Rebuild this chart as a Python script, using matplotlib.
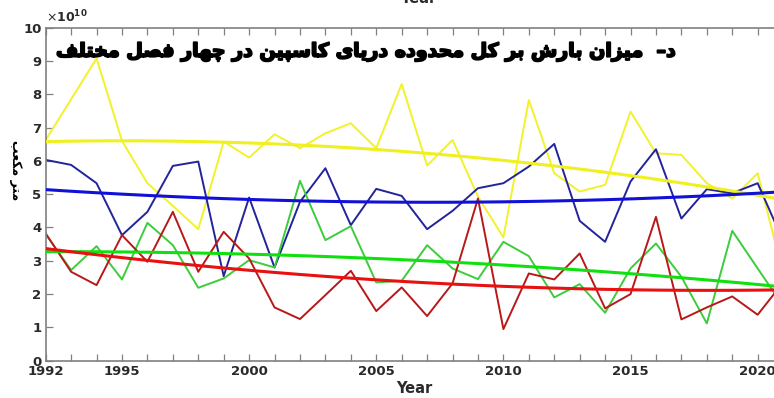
import numpy as np
import matplotlib
matplotlib.use("Agg")
import matplotlib.pyplot as plt
import matplotlib.patheffects as pe

# Seasonal precipitation volume over the Caspian Sea basin, in units of 1e10 m^3
years = np.arange(1992, 2022)

winter = [6.63, 7.85, 9.08, 6.60, 5.33, 4.65, 3.95, 6.58, 6.10, 6.80,
          6.38, 6.83, 7.13, 6.38, 8.31, 5.86, 6.63, 4.93, 3.70, 7.83,
          5.63, 5.08, 5.28, 7.48, 6.23, 6.18, 5.33, 4.87, 5.63, 2.60]
autumn = [6.03, 5.88, 5.33, 3.77, 4.47, 5.85, 5.98, 2.54, 4.90, 2.80,
          4.77, 5.78, 4.07, 5.16, 4.95, 3.95, 4.50, 5.18, 5.33, 5.83,
          6.51, 4.20, 3.57, 5.38, 6.35, 4.27, 5.15, 5.03, 5.33, 3.60]
spring = [3.80, 2.72, 3.44, 2.44, 4.14, 3.47, 2.19, 2.47, 3.02, 2.80,
          5.40, 3.62, 4.04, 2.35, 2.40, 3.47, 2.77, 2.45, 3.57, 3.14,
          1.90, 2.30, 1.44, 2.77, 3.52, 2.52, 1.12, 3.90, 2.77, 1.65]
summer = [3.82, 2.67, 2.27, 3.77, 2.97, 4.47, 2.67, 3.87, 3.07, 1.60,
          1.25, 1.97, 2.70, 1.49, 2.20, 1.34, 2.32, 4.87, 0.95, 2.62,
          2.44, 3.22, 1.57, 2.00, 4.32, 1.24, 1.60, 1.93, 1.38, 2.35]

series = [
    (winter, "#f2f22a", "#f0f020"),
    (autumn, "#23239a", "#1010d8"),
    (spring, "#3ccc3c", "#10e010"),
    (summer, "#b81818", "#e81010"),
]

title_text = "د–  میزان بارش بر کل محدوده دریای کاسپین در چهار فصل مختلف"
ylabel_text = "متر مکعب"
xticks_labeled = [1992, 1995, 2000, 2005, 2010, 2015, 2020]
yticks = list(range(0, 11))

# --- simple Arabic-script shaping (presentation forms + visual order) ---
FORMS = {
    'ا': ('\uFE8D', '\uFE8E', None, None),
    'ب': ('\uFE8F', '\uFE90', '\uFE91', '\uFE92'),
    'پ': ('\uFB56', '\uFB57', '\uFB58', '\uFB59'),
    'ت': ('\uFE95', '\uFE96', '\uFE97', '\uFE98'),
    'ج': ('\uFE9D', '\uFE9E', '\uFE9F', '\uFEA0'),
    'چ': ('\uFB7A', '\uFB7B', '\uFB7C', '\uFB7D'),
    'ح': ('\uFEA1', '\uFEA2', '\uFEA3', '\uFEA4'),
    'خ': ('\uFEA5', '\uFEA6', '\uFEA7', '\uFEA8'),
    'د': ('\uFEA9', '\uFEAA', None, None),
    'ر': ('\uFEAD', '\uFEAE', None, None),
    'ز': ('\uFEAF', '\uFEB0', None, None),
    'س': ('\uFEB1', '\uFEB2', '\uFEB3', '\uFEB4'),
    'ش': ('\uFEB5', '\uFEB6', '\uFEB7', '\uFEB8'),
    'ص': ('\uFEB9', '\uFEBA', '\uFEBB', '\uFEBC'),
    'ع': ('\uFEC9', '\uFECA', '\uFECB', '\uFECC'),
    'ف': ('\uFED1', '\uFED2', '\uFED3', '\uFED4'),
    'ق': ('\uFED5', '\uFED6', '\uFED7', '\uFED8'),
    'ک': ('\uFB8E', '\uFB8F', '\uFB90', '\uFB91'),
    'ل': ('\uFEDD', '\uFEDE', '\uFEDF', '\uFEE0'),
    'م': ('\uFEE1', '\uFEE2', '\uFEE3', '\uFEE4'),
    'ن': ('\uFEE5', '\uFEE6', '\uFEE7', '\uFEE8'),
    'ه': ('\uFEE9', '\uFEEA', '\uFEEB', '\uFEEC'),
    'و': ('\uFEED', '\uFEEE', None, None),
    'ی': ('\uFBFC', '\uFBFD', '\uFBFE', '\uFBFF'),
}


def shape(text):
    chars = list(text)
    out = []
    for i, c in enumerate(chars):
        if c not in FORMS:
            out.append(c)
            continue
        iso, fin, ini, med = FORMS[c]
        prev = chars[i - 1] if i > 0 else None
        nxt = chars[i + 1] if i + 1 < len(chars) else None
        join_prev = prev in FORMS and FORMS[prev][2] is not None
        join_next = nxt in FORMS and ini is not None
        if join_prev and join_next:
            out.append(med)
        elif join_prev:
            out.append(fin)
        elif join_next:
            out.append(ini)
        else:
            out.append(iso)
    return "".join(reversed(out))


W, H = 774, 398
fig = plt.figure(figsize=(W / 100, H / 100), dpi=100)
ax = fig.add_axes([45.7 / W, (H - 360.7) / H, (783.1 - 45.7) / W, (360.7 - 27.7) / H])

for vals, c_data, c_fit in series:
    v = np.array(vals)
    ax.plot(years, v, color=c_data, lw=1.4, zorder=2)
    coef = np.polyfit(years - 2006.5, v, 2)
    ax.plot(years, np.polyval(coef, years - 2006.5), color=c_fit, lw=2.2, zorder=3)

ax.set_xlim(1992, 2021)
ax.set_ylim(0, 10)

spine_c = "#808080"
label_c = "#2a2a2a"
for s in ax.spines.values():
    s.set_color(spine_c)
    s.set_linewidth(1.2)

ax.set_xticks(years)
ax.set_xticklabels([str(y) if y in xticks_labeled else "" for y in years])
ax.set_yticks(yticks)
ax.set_yticklabels([str(t) for t in yticks])
ax.tick_params(direction="in", length=5, width=0.9, color=spine_c,
               labelcolor=label_c, labelsize=9.5, top=True, right=True, pad=3)
for lab in ax.get_xticklabels() + ax.get_yticklabels():
    lab.set_fontweight("bold")

# exponent marker for the y axis
ax.text(0.0, 1.006, r"$\times\mathbf{10^{10}}$", transform=ax.transAxes,
        ha="left", va="bottom", fontsize=9, color=label_c)

ax.set_xlabel("Year", fontsize=10.5, fontweight="bold", color=label_c, labelpad=2)

fig.text(367 / W, 1 - 52 / H, shape(title_text), ha="center", va="center",
         fontsize=13.7, fontweight="bold", color="black", family=["DejaVu Sans"],
         path_effects=[pe.withStroke(linewidth=1.3, foreground="black")])

fig.text(15 / W, 1 - 170 / H, shape(ylabel_text), rotation=270, ha="center", va="center",
         fontsize=9, fontweight="bold", color="black")

# axis title from the panel above, partly cut by the top edge
fig.text(418 / W, 1 - 3 / H, "Year", ha="center", va="baseline",
         fontsize=10.5, fontweight="bold", color=label_c)

fig.savefig("out.png", dpi=100)
